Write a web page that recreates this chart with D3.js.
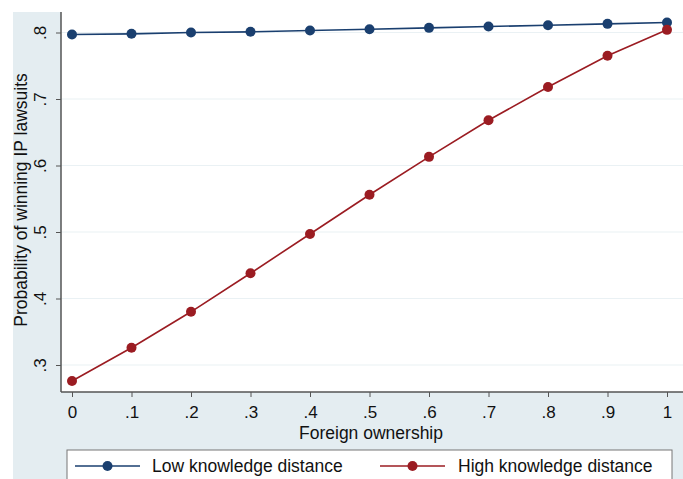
<!DOCTYPE html>
<html><head><meta charset="utf-8">
<script src="https://cdn.jsdelivr.net/npm/d3@7"></script>
<style>body{margin:0;background:#fff;}svg{display:block;font-family:Arial,"Liberation Sans",sans-serif;}</style>
</head><body>
<svg id="c" width="683" height="479"></svg>
<script>
const xValues = [0, .1, .2, .3, .4, .5, .6, .7, .8, .9, 1];
const lowSeries = [0.797, 0.798, 0.800, 0.801, 0.803, 0.805, 0.807, 0.809, 0.811, 0.813, 0.815];
const highSeries = [0.276, 0.326, 0.380, 0.438, 0.497, 0.556, 0.613, 0.668, 0.718, 0.765, 0.804];
const xTicks = [0, .1, .2, .3, .4, .5, .6, .7, .8, .9, 1];
const xTickLabels = ["0", ".1", ".2", ".3", ".4", ".5", ".6", ".7", ".8", ".9", "1"];
const yTicks = [.3, .4, .5, .6, .7, .8];
const yTickLabels = [".3", ".4", ".5", ".6", ".7", ".8"];
const seriesNames = ["Low knowledge distance", "High knowledge distance"];
const colors = ["#1a3f6f", "#9b1c22"];

const svg = d3.select("#c");
svg.append("rect").attr("x", 13).attr("y", 12).attr("width", 670).attr("height", 467).attr("fill", "#e4edf1");
const L = 61, T = 12, R = 683, B = 392;
svg.append("rect").attr("x", L).attr("y", T).attr("width", R - L).attr("height", B - T).attr("fill", "#fff");

const x = d3.scaleLinear().domain([0, 1]).range([72, 667]);
const y = d3.scaleLinear().domain([.3, .8]).range([365, 32.5]);
const FS = 17.5;

// grid
svg.append("g").selectAll("line").data(yTicks).join("line")
  .attr("x1", L).attr("x2", R).attr("y1", d => y(d)).attr("y2", d => y(d))
  .attr("stroke", "#eaf1f4").attr("stroke-width", 1.2);

// axes
const xa = svg.append("g").attr("transform", `translate(0,${B})`)
  .call(d3.axisBottom(x).tickValues(xTicks).tickFormat((d, i) => xTickLabels[i]).tickSize(5).tickSizeOuter(0));
xa.select(".domain").attr("d", `M${L},0H${R}`).attr("stroke", "#555").attr("stroke-width", 1.5);
xa.selectAll(".tick line").attr("stroke", "#555");
xa.selectAll(".tick text").attr("font-size", 17).attr("fill", "#111").attr("dy", 0).attr("y", 26);

const ya = svg.append("g").attr("transform", `translate(${L},0)`)
  .call(d3.axisLeft(y).tickValues(yTicks).tickFormat((d, i) => yTickLabels[i]).tickSize(5).tickSizeOuter(0));
ya.select(".domain").attr("d", `M0,${T}V${B}`).attr("stroke", "#555").attr("stroke-width", 1.5);
ya.selectAll(".tick line").attr("stroke", "#555");
ya.selectAll(".tick text").attr("font-size", 17).attr("fill", "#111")
  .attr("x", 0).attr("dy", 0).attr("text-anchor", "middle")
  .attr("transform", "translate(-15,0) rotate(-90)");

// titles
svg.append("text").attr("x", 371).attr("y", 439).attr("text-anchor", "middle")
  .attr("font-size", FS).attr("fill", "#111").text("Foreign ownership");
svg.append("text").attr("transform", "translate(27,200) rotate(-90)").attr("text-anchor", "middle")
  .attr("font-size", FS).attr("fill", "#111").text("Probability of winning IP lawsuits");

const line = d3.line().x((d, i) => x(xValues[i])).y(d => y(d));
[lowSeries, highSeries].forEach((s, k) => {
  svg.append("path").datum(s).attr("d", line).attr("fill", "none").attr("stroke", colors[k]).attr("stroke-width", 1.6);
  svg.append("g").selectAll("circle").data(s).join("circle")
    .attr("cx", (d, i) => x(xValues[i])).attr("cy", d => y(d)).attr("r", 5).attr("fill", colors[k]);
});

// legend
svg.append("rect").attr("x", 67).attr("y", 450).attr("width", 605).attr("height", 40)
  .attr("fill", "#fff").attr("stroke", "#777").attr("stroke-width", 1);
const lg = [{x0: 75, x1: 140, tx: 152}, {x0: 380, x1: 445, tx: 458}];
lg.forEach((p, k) => {
  svg.append("line").attr("x1", p.x0).attr("x2", p.x1).attr("y1", 466).attr("y2", 466)
    .attr("stroke", colors[k]).attr("stroke-width", 1.6);
  svg.append("circle").attr("cx", (p.x0 + p.x1) / 2).attr("cy", 466).attr("r", 5).attr("fill", colors[k]);
  svg.append("text").attr("x", p.tx).attr("y", 472).attr("font-size", FS).attr("fill", "#111").text(seriesNames[k]);
});
</script>
</body></html>
